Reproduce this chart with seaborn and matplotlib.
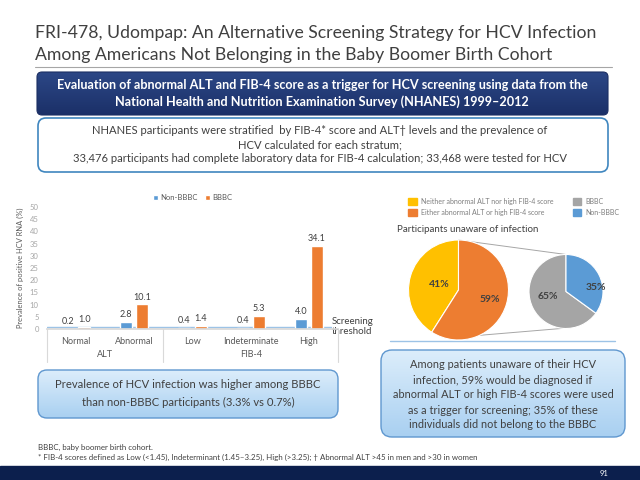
import numpy as np
import pandas as pd
import matplotlib
matplotlib.use("Agg")
import matplotlib.pyplot as plt
import seaborn as sns
from matplotlib.patches import FancyBboxPatch, Patch
from matplotlib.colors import LinearSegmentedColormap
from matplotlib.transforms import blended_transform_factory

# bar chart data
categories = ["Normal", "Abnormal", "Low", "Indeterminate", "High"]
groups = ["ALT", "FIB-4"]
group_sizes = [2, 3]
non_bbbc = [0.2, 2.8, 0.4, 0.4, 4.0]
bbbc = [1.0, 10.1, 1.4, 5.3, 34.1]
series = ["Non-BBBC", "BBBC"]
threshold = 1.0
yticks = [0, 5, 10, 15, 20, 25, 30, 35, 40, 45, 50]

# pie data
aware_labels = ["Neither abnormal ALT nor high FIB-4 score",
                "Either abnormal ALT or high FIB-4 score"]
aware_pct = [41, 59]
cohort_labels = ["BBBC", "Non-BBBC"]
cohort_pct = [65, 35]

BLUE = "#5b9bd5"
ORANGE = "#ed7d31"
YELLOW = "#ffc000"
GREY = "#a5a5a5"
DARK = "#404040"

sns.set_theme(style="white")
plt.rcParams["font.family"] = ["Lato", "DejaVu Sans"]

fig = plt.figure(figsize=(6.4, 4.8), dpi=100)

# slide background in pixel coordinates
bg = fig.add_axes([0, 0, 1, 1])
bg.set_xlim(0, 640)
bg.set_ylim(480, 0)
bg.set_autoscale_on(False)
bg.axis("off")


def box(x0, y0, x1, y1, edge, grad, lw=1.0, rad=7):
    p = FancyBboxPatch((x0, y0), x1 - x0, y1 - y0,
                       boxstyle=f"round,pad=0,rounding_size={rad}",
                       fc="none", ec=edge, lw=lw, zorder=3)
    bg.add_patch(p)
    cmap = LinearSegmentedColormap.from_list("g", grad)
    im = bg.imshow(np.linspace(0, 1, 64)[:, None], cmap=cmap, aspect="auto",
                   extent=(x0, x1, y1, y0), origin="upper", zorder=2)
    im.set_clip_path(p)


# title
bg.text(35, 33, "FRI-478, Udompap: An Alternative Screening Strategy for HCV Infection",
        fontsize=12.7, color=DARK, va="center")
bg.text(35, 55, "Among Americans Not Belonging in the Baby Boomer Birth Cohort",
        fontsize=12.7, color=DARK, va="center")
bg.plot([35, 612], [67, 67], color="#a6a6a6", lw=0.8)

# navy banner
box(37, 72, 608, 115, "#1c2f63", ["#2c4786", "#1b3068"], lw=0.8, rad=5)
bg.text(322, 85, "Evaluation of abnormal ALT and FIB-4 score as a trigger for HCV screening using data from the",
        fontsize=9.1, color="white", weight="bold", ha="center", va="center", zorder=4)
bg.text(322, 102, "National Health and Nutrition Examination Survey (NHANES) 1999\u20132012",
        fontsize=9.1, color="white", weight="bold", ha="center", va="center", zorder=4)

# methods box
box(38, 118, 608, 172, "#3f86bf", ["white", "white"], lw=1.2, rad=8)
bg.text(320, 131, "NHANES participants were stratified  by FIB-4* score and ALT\u2020 levels and the prevalence of",
        fontsize=8.1, color=DARK, ha="center", va="center", zorder=4)
bg.text(320, 145, "HCV calculated for each stratum;", fontsize=8.1, color=DARK,
        ha="center", va="center", zorder=4)
bg.text(320, 159, "33,476 participants had complete laboratory data for FIB-4 calculation; 33,468 were tested for HCV",
        fontsize=8.1, color=DARK, ha="center", va="center", zorder=4)

# ---------------- bar chart ----------------
ax = fig.add_axes([47 / 640, 1 - 329 / 480, 291 / 640, 122 / 480])
ax.patch.set_visible(False)
df = pd.DataFrame({
    "Category": categories * 2,
    "Prevalence": non_bbbc + bbbc,
    "Group": [series[0]] * len(categories) + [series[1]] * len(categories),
})
sns.barplot(data=df, x="Category", y="Prevalence", hue="Group", order=categories,
            hue_order=series, palette=[BLUE, ORANGE], width=0.55, gap=0.25,
            saturation=1, ax=ax)
for cont in ax.containers:
    ax.bar_label(cont, fmt="%.1f", fontsize=6.5, color=DARK, padding=2)
ax.set_ylim(0, 50)
ax.set_xlim(-0.5, len(categories) - 0.5)
ax.set_yticks(yticks)
ax.tick_params(axis="y", labelsize=5.5, labelcolor="#a6a6a6", length=0, pad=6)
ax.tick_params(axis="x", labelsize=6.5, labelcolor="#595959", length=0, pad=6)
ax.set_xlabel("")
ax.set_ylabel("Prevalence of positive HCV RNA (%)", fontsize=5.4, color="#595959", labelpad=4)
for s in ["top", "right", "left"]:
    ax.spines[s].set_visible(False)
ax.spines["bottom"].set_color("#d9d9d9")
ax.axhline(threshold, xmin=0, xmax=0.975, color="#9dc3e6", lw=1.0, zorder=0.5)
ax.legend(loc="lower center", bbox_to_anchor=(0.5, 0.99), ncol=2, frameon=False,
          fontsize=5.5, handlelength=0.6, handleheight=0.6, handletextpad=0.3,
          columnspacing=1.0, labelcolor="#595959")

trans = blended_transform_factory(ax.transData, ax.transAxes)
edges = np.concatenate([[0], np.cumsum(group_sizes)]) - 0.5
for e in edges:
    ax.plot([e, e], [0, -0.27], transform=trans, color="#d9d9d9", lw=0.8, clip_on=False)
for g, a, b in zip(groups, edges[:-1], edges[1:]):
    ax.text((a + b) / 2, -0.205, g, transform=trans, fontsize=6.5, color="#595959",
            ha="center", va="center")

bg.text(332, 321, "Screening", fontsize=7, color=DARK, va="center")
bg.text(332, 332, "threshold", fontsize=7, color=DARK, va="center")

# ---------------- pie of pie ----------------
pax = fig.add_axes([390 / 640, 1 - 350 / 480, 250 / 640, 125 / 480])
pax.patch.set_visible(False)
big_c, big_r = (0.0, 0.0), 50
small_c, small_r = (107.5, -1.5), 37
w1, _ = pax.pie(aware_pct, colors=[YELLOW, ORANGE], startangle=90, center=big_c,
                radius=big_r, wedgeprops=dict(ec="white", lw=0.8))
w2, _ = pax.pie(cohort_pct, colors=[GREY, BLUE], startangle=90, center=small_c,
                radius=small_r, wedgeprops=dict(ec="white", lw=0.8))
pax.set_xlim(-68.5, 181.5)
pax.set_ylim(-60, 65)
pax.set_aspect("equal")
pax.axis("off")


def pie_label(wedges, vals, center, r, dists, shifts):
    for w, v, d, s in zip(wedges, vals, dists, shifts):
        ang = np.deg2rad((w.theta1 + w.theta2) / 2 + s)
        pax.text(center[0] + d * r * np.cos(ang), center[1] + d * r * np.sin(ang),
                 f"{v}%", fontsize=7.5, weight="bold", color=DARK, ha="center", va="center")


pie_label(w1, aware_pct, big_c, big_r, [0.4, 0.65], [0, 0])
pie_label(w2, cohort_pct, small_c, small_r, [0.52, 0.82], [-12, -20])

for a_big, a_small in [(90, 90), (-65, -95)]:
    p1 = (big_c[0] + big_r * np.cos(np.deg2rad(a_big)), big_c[1] + big_r * np.sin(np.deg2rad(a_big)))
    p2 = (small_c[0] + small_r * np.cos(np.deg2rad(a_small)),
          small_c[1] + small_r * np.sin(np.deg2rad(a_small)))
    pax.plot([p1[0], p2[0]], [p1[1], p2[1]], color="#a6a6a6", lw=0.7, zorder=0)

handles = [Patch(color=c) for c in [YELLOW, ORANGE, GREY, BLUE]]
fig.legend(handles, aware_labels + cohort_labels, ncol=2, loc="center left",
           bbox_to_anchor=(402 / 640, 1 - 207 / 480), frameon=False, fontsize=5,
           handlelength=1.2, handleheight=1.2, handletextpad=0.6, columnspacing=2.8,
           labelspacing=0.6, labelcolor="#7f7f7f")
bg.text(397, 230, "Participants unaware of infection", fontsize=7, color=DARK, va="center")
bg.plot([390, 615], [341, 341], color="#9dc3e6", lw=1.0)

# ---------------- callout boxes ----------------
box(38, 370, 338, 418, "#5f97cf", ["#dcedfb", "#a9d0f1"], lw=1.0, rad=9)
bg.text(188, 385, "Prevalence of HCV infection was higher among BBBC",
        fontsize=8.1, color=DARK, ha="center", va="center", zorder=4)
bg.text(188, 402, "than non-BBBC participants (3.3% vs 0.7%)",
        fontsize=8.1, color=DARK, ha="center", va="center", zorder=4)

box(381, 350, 625, 437, "#5f97cf", ["#dcedfb", "#a9d0f1"], lw=1.0, rad=11)
right_lines = ["Among patients unaware of their HCV", "infection, 59% would be diagnosed if",
               "abnormal ALT or high FIB-4 scores were used",
               "as a trigger for screening; 35% of these",
               "individuals did not belong to the BBBC"]
for i, t in enumerate(right_lines):
    bg.text(503, 365 + i * 15, t, fontsize=7.9, color=DARK, ha="center", va="center", zorder=4)

# footnotes
bg.text(38, 447, "BBBC, baby boomer birth cohort.", fontsize=5.7, color=DARK, va="center")
bg.text(38, 457, "* FIB-4 scores defined as Low (<1.45), Indeterminant (1.45\u20133.25), High (>3.25); "
        "\u2020 Abnormal ALT >45 in men and >30 in women", fontsize=5.7, color=DARK, va="center")

# footer bar
bg.add_patch(plt.Rectangle((0, 466), 640, 14, color="#0c1f4d", zorder=2))
bg.text(604, 473, "91", fontsize=5.5, color="white", ha="center", va="center", zorder=4)

fig.savefig("out.png", dpi=100)
